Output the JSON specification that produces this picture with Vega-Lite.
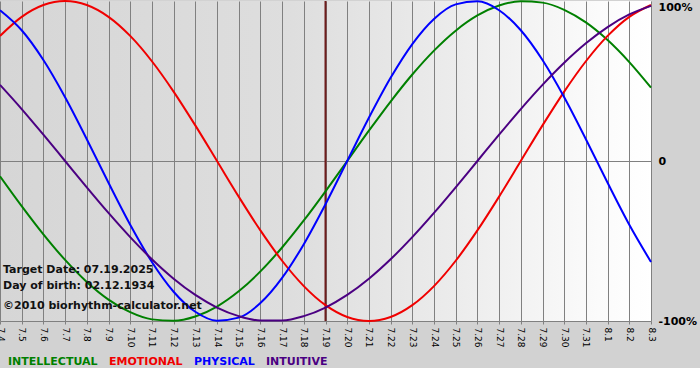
{
  "$schema": "https://vega.github.io/schema/vega-lite/v6.json",
  "autosize": "none",
  "width": 651,
  "height": 320,
  "padding": {"left": 0, "top": 1, "right": 49, "bottom": 47},
  "background": "#d2d2d2",
  "config": {
    "view": {
      "stroke": null,
      "fill": {"gradient": "linear", "x1": 0, "y1": 0, "x2": 1, "y2": 0,
        "stops": [
          {"offset": 0, "color": "#d6d6d6"},
          {"offset": 0.45, "color": "#dedede"},
          {"offset": 0.7, "color": "#ececec"},
          {"offset": 0.92, "color": "#fbfbfb"},
          {"offset": 1, "color": "#ffffff"}
        ]}
    },
    "font": "DejaVu Sans"
  },
  "datasets": {
    "target": [
      {"date": "7.19"}
    ]
  },
  "data": {"values": [
    {"date":"7.4","rhythm":"INTELLECTUAL","value":-0.0951},{"date":"7.5","rhythm":"INTELLECTUAL","value":-0.2817},{"date":"7.6","rhythm":"INTELLECTUAL","value":-0.4582},{"date":"7.7","rhythm":"INTELLECTUAL","value":-0.6182},{"date":"7.8","rhythm":"INTELLECTUAL","value":-0.7557},{"date":"7.9","rhythm":"INTELLECTUAL","value":-0.866},{"date":"7.10","rhythm":"INTELLECTUAL","value":-0.945},{"date":"7.11","rhythm":"INTELLECTUAL","value":-0.9898},{"date":"7.12","rhythm":"INTELLECTUAL","value":-0.9989},{"date":"7.13","rhythm":"INTELLECTUAL","value":-0.9718},{"date":"7.14","rhythm":"INTELLECTUAL","value":-0.9096},{"date":"7.15","rhythm":"INTELLECTUAL","value":-0.8146},{"date":"7.16","rhythm":"INTELLECTUAL","value":-0.6901},{"date":"7.17","rhythm":"INTELLECTUAL","value":-0.5406},{"date":"7.18","rhythm":"INTELLECTUAL","value":-0.3717},{"date":"7.19","rhythm":"INTELLECTUAL","value":-0.1893},{"date":"7.20","rhythm":"INTELLECTUAL","value":0},{"date":"7.21","rhythm":"INTELLECTUAL","value":0.1893},{"date":"7.22","rhythm":"INTELLECTUAL","value":0.3717},{"date":"7.23","rhythm":"INTELLECTUAL","value":0.5406},{"date":"7.24","rhythm":"INTELLECTUAL","value":0.6901},{"date":"7.25","rhythm":"INTELLECTUAL","value":0.8146},{"date":"7.26","rhythm":"INTELLECTUAL","value":0.9096},{"date":"7.27","rhythm":"INTELLECTUAL","value":0.9718},{"date":"7.28","rhythm":"INTELLECTUAL","value":0.9989},{"date":"7.29","rhythm":"INTELLECTUAL","value":0.9898},{"date":"7.30","rhythm":"INTELLECTUAL","value":0.945},{"date":"7.31","rhythm":"INTELLECTUAL","value":0.866},{"date":"8.1","rhythm":"INTELLECTUAL","value":0.7557},{"date":"8.2","rhythm":"INTELLECTUAL","value":0.6182},{"date":"8.3","rhythm":"INTELLECTUAL","value":0.4582},
    {"date":"7.4","rhythm":"EMOTIONAL","value":0.7818},{"date":"7.5","rhythm":"EMOTIONAL","value":0.901},{"date":"7.6","rhythm":"EMOTIONAL","value":0.9749},{"date":"7.7","rhythm":"EMOTIONAL","value":1},{"date":"7.8","rhythm":"EMOTIONAL","value":0.9749},{"date":"7.9","rhythm":"EMOTIONAL","value":0.901},{"date":"7.10","rhythm":"EMOTIONAL","value":0.7818},{"date":"7.11","rhythm":"EMOTIONAL","value":0.6235},{"date":"7.12","rhythm":"EMOTIONAL","value":0.4339},{"date":"7.13","rhythm":"EMOTIONAL","value":0.2225},{"date":"7.14","rhythm":"EMOTIONAL","value":0},{"date":"7.15","rhythm":"EMOTIONAL","value":-0.2225},{"date":"7.16","rhythm":"EMOTIONAL","value":-0.4339},{"date":"7.17","rhythm":"EMOTIONAL","value":-0.6235},{"date":"7.18","rhythm":"EMOTIONAL","value":-0.7818},{"date":"7.19","rhythm":"EMOTIONAL","value":-0.901},{"date":"7.20","rhythm":"EMOTIONAL","value":-0.9749},{"date":"7.21","rhythm":"EMOTIONAL","value":-1},{"date":"7.22","rhythm":"EMOTIONAL","value":-0.9749},{"date":"7.23","rhythm":"EMOTIONAL","value":-0.901},{"date":"7.24","rhythm":"EMOTIONAL","value":-0.7818},{"date":"7.25","rhythm":"EMOTIONAL","value":-0.6235},{"date":"7.26","rhythm":"EMOTIONAL","value":-0.4339},{"date":"7.27","rhythm":"EMOTIONAL","value":-0.2225},{"date":"7.28","rhythm":"EMOTIONAL","value":0},{"date":"7.29","rhythm":"EMOTIONAL","value":0.2225},{"date":"7.30","rhythm":"EMOTIONAL","value":0.4339},{"date":"7.31","rhythm":"EMOTIONAL","value":0.6235},{"date":"8.1","rhythm":"EMOTIONAL","value":0.7818},{"date":"8.2","rhythm":"EMOTIONAL","value":0.901},{"date":"8.3","rhythm":"EMOTIONAL","value":0.9749},
    {"date":"7.4","rhythm":"PHYSICAL","value":0.9423},{"date":"7.5","rhythm":"PHYSICAL","value":0.817},{"date":"7.6","rhythm":"PHYSICAL","value":0.6311},{"date":"7.7","rhythm":"PHYSICAL","value":0.3984},{"date":"7.8","rhythm":"PHYSICAL","value":0.1362},{"date":"7.9","rhythm":"PHYSICAL","value":-0.1362},{"date":"7.10","rhythm":"PHYSICAL","value":-0.3984},{"date":"7.11","rhythm":"PHYSICAL","value":-0.6311},{"date":"7.12","rhythm":"PHYSICAL","value":-0.817},{"date":"7.13","rhythm":"PHYSICAL","value":-0.9423},{"date":"7.14","rhythm":"PHYSICAL","value":-0.9977},{"date":"7.15","rhythm":"PHYSICAL","value":-0.9791},{"date":"7.16","rhythm":"PHYSICAL","value":-0.8879},{"date":"7.17","rhythm":"PHYSICAL","value":-0.7308},{"date":"7.18","rhythm":"PHYSICAL","value":-0.5196},{"date":"7.19","rhythm":"PHYSICAL","value":-0.2698},{"date":"7.20","rhythm":"PHYSICAL","value":0},{"date":"7.21","rhythm":"PHYSICAL","value":0.2698},{"date":"7.22","rhythm":"PHYSICAL","value":0.5196},{"date":"7.23","rhythm":"PHYSICAL","value":0.7308},{"date":"7.24","rhythm":"PHYSICAL","value":0.8879},{"date":"7.25","rhythm":"PHYSICAL","value":0.9791},{"date":"7.26","rhythm":"PHYSICAL","value":0.9977},{"date":"7.27","rhythm":"PHYSICAL","value":0.9423},{"date":"7.28","rhythm":"PHYSICAL","value":0.817},{"date":"7.29","rhythm":"PHYSICAL","value":0.6311},{"date":"7.30","rhythm":"PHYSICAL","value":0.3984},{"date":"7.31","rhythm":"PHYSICAL","value":0.1362},{"date":"8.1","rhythm":"PHYSICAL","value":-0.1362},{"date":"8.2","rhythm":"PHYSICAL","value":-0.3984},{"date":"8.3","rhythm":"PHYSICAL","value":-0.6311},
    {"date":"7.4","rhythm":"INTUITIVE","value":0.4759},{"date":"7.5","rhythm":"INTUITIVE","value":0.3247},{"date":"7.6","rhythm":"INTUITIVE","value":0.1646},{"date":"7.7","rhythm":"INTUITIVE","value":0},{"date":"7.8","rhythm":"INTUITIVE","value":-0.1646},{"date":"7.9","rhythm":"INTUITIVE","value":-0.3247},{"date":"7.10","rhythm":"INTUITIVE","value":-0.4759},{"date":"7.11","rhythm":"INTUITIVE","value":-0.6142},{"date":"7.12","rhythm":"INTUITIVE","value":-0.7357},{"date":"7.13","rhythm":"INTUITIVE","value":-0.8372},{"date":"7.14","rhythm":"INTUITIVE","value":-0.9158},{"date":"7.15","rhythm":"INTUITIVE","value":-0.9694},{"date":"7.16","rhythm":"INTUITIVE","value":-0.9966},{"date":"7.17","rhythm":"INTUITIVE","value":-0.9966},{"date":"7.18","rhythm":"INTUITIVE","value":-0.9694},{"date":"7.19","rhythm":"INTUITIVE","value":-0.9158},{"date":"7.20","rhythm":"INTUITIVE","value":-0.8372},{"date":"7.21","rhythm":"INTUITIVE","value":-0.7357},{"date":"7.22","rhythm":"INTUITIVE","value":-0.6142},{"date":"7.23","rhythm":"INTUITIVE","value":-0.4759},{"date":"7.24","rhythm":"INTUITIVE","value":-0.3247},{"date":"7.25","rhythm":"INTUITIVE","value":-0.1646},{"date":"7.26","rhythm":"INTUITIVE","value":0},{"date":"7.27","rhythm":"INTUITIVE","value":0.1646},{"date":"7.28","rhythm":"INTUITIVE","value":0.3247},{"date":"7.29","rhythm":"INTUITIVE","value":0.4759},{"date":"7.30","rhythm":"INTUITIVE","value":0.6142},{"date":"7.31","rhythm":"INTUITIVE","value":0.7357},{"date":"8.1","rhythm":"INTUITIVE","value":0.8372},{"date":"8.2","rhythm":"INTUITIVE","value":0.9158},{"date":"8.3","rhythm":"INTUITIVE","value":0.9694}
  ]},
  "encoding": {
    "x": {
      "field": "date", "type": "ordinal",
      "scale": {"type": "point", "padding": 0, "domain": ["7.4","7.5","7.6","7.7","7.8","7.9","7.10","7.11","7.12","7.13","7.14","7.15","7.16","7.17","7.18","7.19","7.20","7.21","7.22","7.23","7.24","7.25","7.26","7.27","7.28","7.29","7.30","7.31","8.1","8.2","8.3"]},
      "axis": {
        "title": null, "orient": "bottom", "labelAngle": 90, "labelFontSize": 9, "labelColor": "#000000",
        "labelPadding": 3, "labelOverlap": false, "labelBound": false, "labelFlush": false,
        "ticks": true, "tickSize": 3, "tickColor": "#808080",
        "domain": true, "domainColor": "#808080",
        "grid": true, "gridColor": "#808080", "gridOpacity": 1
      }
    },
    "y": {
      "field": "value", "type": "quantitative",
      "scale": {"domain": [-1, 1], "nice": false, "zero": false},
      "axis": {
        "title": null, "orient": "right", "values": [-1, 0, 1],
        "labelExpr": "datum.value == 1 ? '100%' : (datum.value == -1 ? '-100%' : '0')",
        "labelFontSize": 11, "labelFontWeight": "bold", "labelColor": "#000000",
        "labelPadding": 7, "ticks": false, "domain": false,
        "labelBaseline": {"condition": {"test": "datum.value === 1", "value": "top"}, "value": "middle"},
        "grid": true, "gridColor": "#808080",
        "gridOpacity": {"condition": {"test": "datum.value === 0", "value": 1}, "value": 0}
      }
    }
  },
  "layer": [
    {
      "data": {"name": "target"},
      "mark": {"type": "rule", "color": "#6e1c1c", "strokeWidth": 2},
      "encoding": {"x": {"field": "date", "type": "ordinal"}, "y": null}
    },
    {
      "mark": {"type": "line", "strokeWidth": 2, "interpolate": "monotone"},
      "encoding": {
        "color": {
          "field": "rhythm", "type": "nominal",
          "scale": {"domain": ["INTELLECTUAL","EMOTIONAL","PHYSICAL","INTUITIVE"], "range": ["#008000","#f00000","#0000ff","#4b0082"]},
          "legend": {
            "title": null, "orient": "none", "legendX": -3, "legendY": 355, "direction": "horizontal",
            "symbolSize": 0, "symbolStrokeWidth": 0, "symbolOpacity": 0, "labelOffset": 0,
            "columnPadding": -6, "labelFontSize": 11, "labelFontWeight": "bold",
            "encode": {"labels": {"update": {"fill": {"scale": "color", "field": "value"}}}}
          }
        }
      }
    },
    {
      "transform": [{"filter": "datum.date == '7.4' && datum.rhythm == 'PHYSICAL'"}],
      "mark": {"type": "text", "align": "left", "baseline": "middle", "dx": 3, "fontSize": 11, "fontWeight": "bold", "color": "#111111", "text": "Target Date: 07.19.2025"},
      "encoding": {"y": {"datum": -0.68}}
    },
    {
      "transform": [{"filter": "datum.date == '7.4' && datum.rhythm == 'PHYSICAL'"}],
      "mark": {"type": "text", "align": "left", "baseline": "middle", "dx": 3, "fontSize": 11, "fontWeight": "bold", "color": "#111111", "text": "Day of birth: 02.12.1934"},
      "encoding": {"y": {"datum": -0.78}}
    },
    {
      "transform": [{"filter": "datum.date == '7.4' && datum.rhythm == 'PHYSICAL'"}],
      "mark": {"type": "text", "align": "left", "baseline": "middle", "dx": 3, "fontSize": 11, "fontWeight": "bold", "color": "#111111", "text": "©2010 biorhythm-calculator.net"},
      "encoding": {"y": {"datum": -0.905}}
    }
  ]
}
